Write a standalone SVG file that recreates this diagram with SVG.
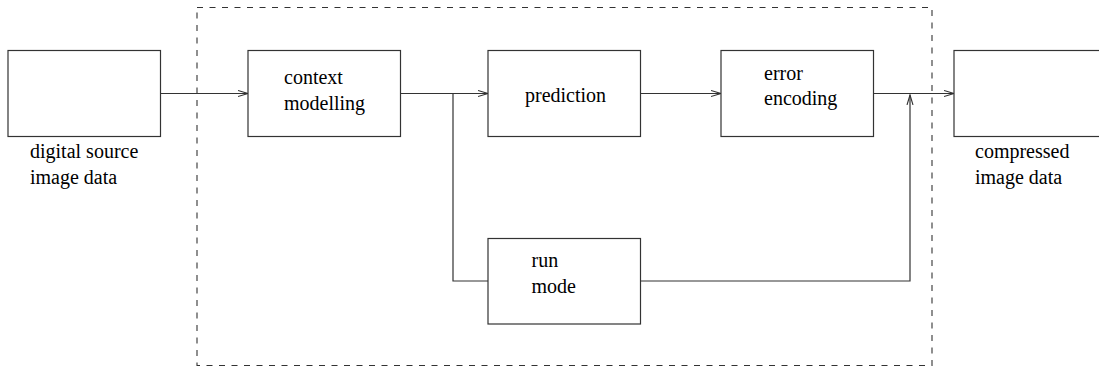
<svg xmlns="http://www.w3.org/2000/svg" width="1099" height="370" viewBox="0 0 1099 370">
<style>
.box{fill:#fff;stroke:#333;stroke-width:1.2}
.ln{fill:none;stroke:#333;stroke-width:1.2}
.lbl{font-family:'Liberation Serif','Times New Roman','DejaVu Serif',serif;font-size:20px;fill:#000}
</style>
<defs>
<marker id="arr" markerWidth="12" markerHeight="8" refX="10" refY="4" orient="auto" markerUnits="userSpaceOnUse">
<polyline points="0,1 10,4 0,7" fill="none" stroke="#333" stroke-width="1.1"/>
</marker>
</defs>
<rect x="0" y="0" width="1099" height="370" fill="#fff"/>
<rect id="boundary" x="197" y="7.5" width="735" height="358" fill="none" stroke="#333" stroke-width="1.1" stroke-dasharray="6,6.5"/>
<g id="connectors">
<line class="ln" x1="160.5" y1="93.5" x2="248" y2="93.5" marker-end="url(#arr)"/>
<line class="ln" x1="400.5" y1="93.5" x2="488" y2="93.5" marker-end="url(#arr)"/>
<polyline class="ln" points="453,93.5 453,281 488,281"/>
<line class="ln" x1="640.5" y1="93.5" x2="721" y2="93.5" marker-end="url(#arr)"/>
<line class="ln" x1="873.5" y1="93.5" x2="954" y2="93.5" marker-end="url(#arr)"/>
<polyline class="ln" points="640.5,281 910,281 910,95" marker-end="url(#arr)"/>
</g>
<g id="source">
<rect class="box" x="8" y="50.5" width="152.5" height="86"/>
<text class="lbl" font-family="Liberation Serif" x="30" y="158">digital source</text>
<text class="lbl" font-family="Liberation Serif" x="30" y="183.5">image data</text>
</g>
<g id="context">
<rect class="box" x="248" y="50.5" width="152.5" height="86"/>
<text class="lbl" font-family="Liberation Serif" x="284" y="84">context</text>
<text class="lbl" font-family="Liberation Serif" x="284" y="110">modelling</text>
</g>
<g id="prediction">
<rect class="box" x="488" y="50.5" width="152.5" height="86"/>
<text class="lbl" font-family="Liberation Serif" x="525" y="101.5">prediction</text>
</g>
<g id="error">
<rect class="box" x="721" y="50.5" width="152.5" height="86"/>
<text class="lbl" font-family="Liberation Serif" x="764" y="80">error</text>
<text class="lbl" font-family="Liberation Serif" x="764" y="105">encoding</text>
</g>
<g id="output">
<rect class="box" x="954" y="50.5" width="152.5" height="86"/>
<text class="lbl" font-family="Liberation Serif" x="975" y="158">compressed</text>
<text class="lbl" font-family="Liberation Serif" x="975" y="184">image data</text>
</g>
<g id="run">
<rect class="box" x="488" y="238.5" width="152.5" height="85.5"/>
<text class="lbl" font-family="Liberation Serif" x="531.5" y="266.5">run</text>
<text class="lbl" font-family="Liberation Serif" x="531.5" y="292.5">mode</text>
</g>
</svg>
